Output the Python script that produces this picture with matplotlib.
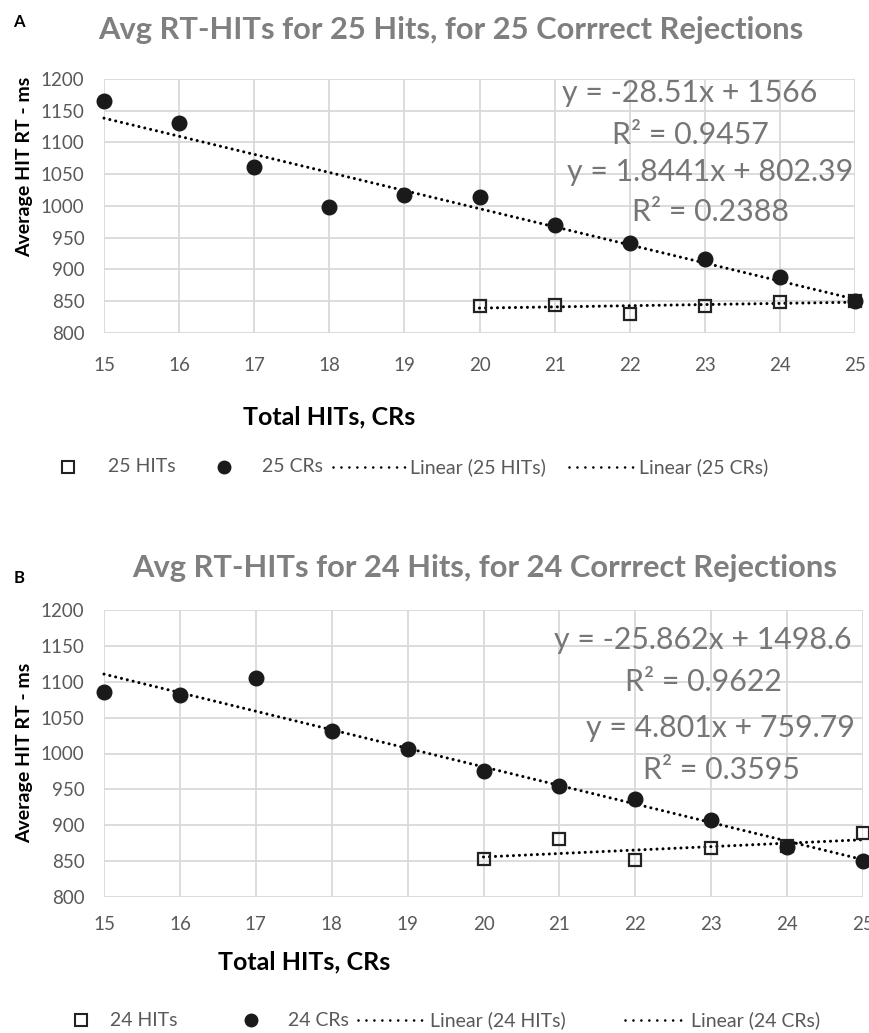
import numpy as np
import matplotlib
matplotlib.use("Agg")
import matplotlib.pyplot as plt
from matplotlib.lines import Line2D

plt.rcParams['font.family'] = ['Lato', 'DejaVu Sans']

# panel A data
x_cr = [15, 16, 17, 18, 19, 20, 21, 22, 23, 24, 25]
x_hit = [20, 21, 22, 23, 24, 25]
a_cr = [1165, 1130, 1061, 998, 1017, 1014, 970, 941, 917, 888, 851]
a_hit = [842, 844, 830, 843, 849, 851]
a_fit_cr = (-28.51, 1566)
a_fit_hit = (1.8441, 802.39)
a_eq = ["y = -28.51x + 1566", "R² = 0.9457", "y = 1.8441x + 802.39", "R² = 0.2388"]

# panel B data
b_cr = [1086, 1081, 1105, 1031, 1006, 976, 955, 937, 908, 870, 850]
b_hit = [853, 881, 852, 868, 871, 889]
b_fit_cr = (-25.862, 1498.6)
b_fit_hit = (4.801, 759.79)
b_eq = ["y = -25.862x + 1498.6", "R² = 0.9622", "y = 4.801x + 759.79", "R² = 0.3595"]

yticks = [800, 850, 900, 950, 1000, 1050, 1100, 1150, 1200]
xticks = list(range(15, 26))

gray_txt = '#767676'
tick_col = '#595959'
grid_col = '#d9d9d9'
dots = (0, (0.01, 1.95))

W, H = 869, 1033
fig = plt.figure(figsize=(W / 100, H / 100), dpi=100)


def fx(px):
    return px / W


def fy(py):
    return 1 - py / H


def panel(rect, cr, hit, fit_cr, fit_hit, eqs, eq_pos, xpad):
    ax = fig.add_axes(rect)
    ax.set_xlim(15, 25)
    ax.set_ylim(800, 1200)
    ax.set_xticks(xticks)
    ax.set_yticks(yticks)
    ax.grid(True, color=grid_col, lw=1.3)
    ax.set_axisbelow(True)
    for s in ax.spines.values():
        s.set_visible(False)
    ax.tick_params(length=0, labelsize=13.5, labelcolor=tick_col)
    ax.tick_params(axis='x', pad=xpad)
    ax.tick_params(axis='y', pad=14)
    xs = np.array(x_hit)
    ax.plot(xs, fit_hit[0] * xs + fit_hit[1], color='black', lw=2.2, ls=dots,
            dash_capstyle='round', clip_on=False)
    xc = np.array(x_cr)
    ax.plot(xc, fit_cr[0] * xc + fit_cr[1], color='black', lw=2.2, ls=dots,
            dash_capstyle='round', clip_on=False)
    ax.plot(x_hit, hit, ls='none', marker='s', ms=9, mfc='none', mec='#222222',
            mew=1.6, clip_on=False, zorder=4)
    ax.plot(x_cr, cr, ls='none', marker='o', ms=10.5, color='#1a1a1a', clip_on=False, zorder=5)
    for t, (px, py) in zip(eqs, eq_pos):
        fig.text(fx(px), fy(py), t, ha='center', va='center',
                 fontsize=21.8, color=gray_txt)
    return ax


panel([fx(104), fy(333), 751 / W, 254 / H], a_cr, a_hit, a_fit_cr, a_fit_hit,
      a_eq, [(690, 93), (690, 135), (710, 172), (710, 212)], 17)
panel([fx(104), fy(897), 759 / W, 287 / H], b_cr, b_hit, b_fit_cr, b_fit_hit,
      b_eq, [(703, 640), (703, 682), (720, 728), (721, 770)], 14)

# titles, labels
fig.text(fx(19), fy(22), 'A', fontsize=12, fontweight='bold', ha='center', va='center')
fig.text(fx(19), fy(578), 'B', fontsize=12, fontweight='bold', ha='center', va='center')
fig.text(fx(451), fy(30), 'Avg RT-HITs for 25 Hits, for 25 Corrrect Rejections',
         fontsize=22.2, fontweight='bold', color='#7f7f7f', ha='center', va='center')
fig.text(fx(485), fy(568), 'Avg RT-HITs for 24 Hits, for 24 Corrrect Rejections',
         fontsize=22.2, fontweight='bold', color='#7f7f7f', ha='center', va='center')
fig.text(fx(25), fy(167), 'Average HIT RT - ms', rotation=90, fontsize=14,
         fontweight='bold', ha='center', va='center')
fig.text(fx(25), fy(753), 'Average HIT RT - ms', rotation=90, fontsize=14,
         fontweight='bold', ha='center', va='center')
fig.text(fx(329), fy(417), 'Total HITs, CRs', fontsize=18, fontweight='bold',
         ha='center', va='center')
fig.text(fx(304), fy(962), 'Total HITs, CRs', fontsize=18, fontweight='bold',
         ha='center', va='center')


def legend_row(n, y, sq_x, sq_t, ci_x, ci_t, l1, l1_t, l2, l2_t):
    fig.add_artist(Line2D([fx(sq_x)], [fy(y)], ls='none', marker='s', ms=8, mfc='none',
                          mec='#222222', mew=1.5, transform=fig.transFigure))
    fig.add_artist(Line2D([fx(ci_x)], [fy(y)], ls='none', marker='o', ms=9,
                          color='#1a1a1a', transform=fig.transFigure))
    for a, b in (l1, l2):
        fig.add_artist(Line2D([fx(a), fx(b)], [fy(y), fy(y)], color='black', lw=1.9,
                              ls=(0, (0.01, 3.0)), dash_capstyle='round',
                              transform=fig.transFigure))
    labels = [f'{n} HITs', f'{n} CRs', f'Linear ({n} HITs)', f'Linear ({n} CRs)']
    for t, px in zip(labels, [sq_t, ci_t, l1_t, l2_t]):
        fig.text(fx(px), fy(y), t, fontsize=14, color=tick_col, ha='left', va='center')


legend_row(25, 467, 68, 108, 224, 262, (333, 405), 410, (569, 633), 639)
legend_row(24, 1020, 81, 110, 251, 288, (358, 427), 430, (625, 686), 691)

fig.savefig('out.png', dpi=100)
